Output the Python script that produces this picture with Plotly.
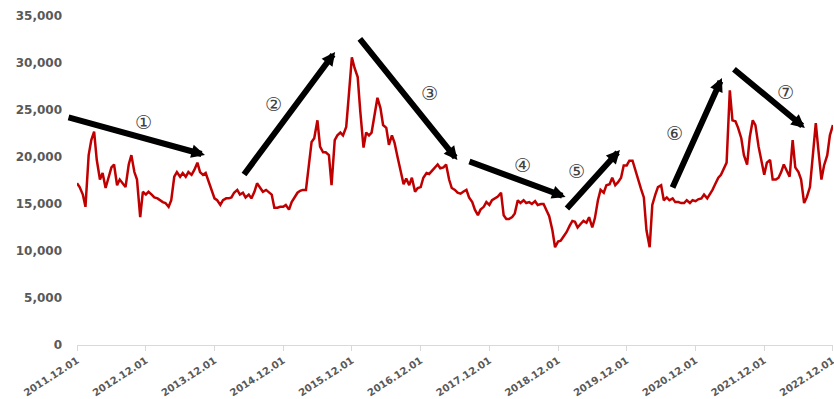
import pandas as pd
import plotly.graph_objects as go

# ---- data (semi-monthly readings of the price series) ----
start_date = "2011-12-01"
values = [
    17200, 16800, 16000, 14700, 20200, 21800, 22700, 19700, 17600, 18300,
    16700, 17800, 18900, 19200, 17000, 17600, 17200, 16800, 19200, 20200,
    18400, 17600, 13600, 16300, 16000, 16300, 16000, 15700, 15600, 15400,
    15200, 15100, 14700, 15400, 17900, 18400, 17900, 18300, 17900, 18400,
    18100, 18600, 19400, 18400, 18100, 18300, 17300, 16300, 15600, 15400,
    14900, 15400, 15600, 15600, 15700, 16200, 16500, 16000, 16200, 15700,
    16000, 15600, 16300, 17200, 16700, 16300, 16500, 16300, 16000, 14600,
    14600, 14700, 14700, 14900, 14400, 15200, 15700, 16200, 16400, 16500,
    16500, 19200, 21600, 22000, 23900, 21100, 20500, 20500, 20200, 17000,
    21800, 22300, 22600, 22300, 23200, 26600, 30600, 29500, 28500, 24800,
    21000, 22600, 22300, 22600, 24500, 26300, 25200, 23400, 23100, 21300,
    22300, 21500, 19900, 18600, 17100, 17700, 17000, 17800, 16300, 16700,
    16800, 17800, 18300, 18200, 18600, 18900, 19200, 18800, 18900, 19200,
    17600, 16700, 16500, 16200, 16100, 16300, 16500, 15700, 15200, 14400,
    13800, 14400, 14700, 15200, 14900, 15400, 15600, 15800, 16200, 13800,
    13400, 13400, 13600, 14000, 15400, 15100, 15400, 15100, 15200, 15000,
    15300, 14900, 15000, 15000, 14300, 13700, 12200, 10400, 11000, 11100,
    11600, 12000, 12700, 13200, 13100, 12500, 12900, 13200, 13000, 13600,
    12500, 13500, 15400, 16500, 16200, 17000, 17100, 17800, 17000, 17300,
    17800, 19100, 19100, 19600, 19600, 18600, 17600, 16600, 15700, 12200,
    10400, 14900, 16000, 16800, 17000, 15400, 15700, 15400, 15600, 15200,
    15200, 15100, 15100, 15400, 15100, 15400, 15300, 15500, 15600, 16000,
    15600, 16000, 16500, 17100, 17800, 18100, 18800, 19400, 27100, 23900,
    23800, 23100, 22000, 20200, 19200, 22100, 23900, 23400, 21100, 19700,
    18100, 19400, 19700, 17600, 17600, 17800, 18400, 19200, 18400, 17900,
    21800, 18900, 18400, 17600, 15100, 15700, 16800, 20200, 23600, 20700,
    17600, 19100, 20200, 22300, 23400,
]
dates = pd.date_range(start_date, periods=len(values), freq="SMS")

tick_dates = ["2011-12-01", "2012-12-01", "2013-12-01", "2014-12-01",
              "2015-12-01", "2016-12-01", "2017-12-01", "2018-12-01",
              "2019-12-01", "2020-12-01", "2021-12-01", "2022-12-01"]
tick_labels = [d.replace("-", ".") for d in tick_dates]
y_ticks = [0, 5000, 10000, 15000, 20000, 25000, 30000, 35000]

# trend arrows: (tail date, tail value, head date, head value)
arrows = [
    ("2011-10-09", 24260, "2013-10-11", 20220),
    ("2014-05-01", 17980, "2015-09-03", 31180),
    ("2016-01-06", 32720, "2017-06-14", 19680),
    ("2017-08-09", 19580, "2019-01-10", 15750),
    ("2019-01-10", 14360, "2019-10-26", 20750),
    ("2020-07-28", 16600, "2021-04-20", 28410),
    ("2021-06-15", 29470, "2022-07-05", 23090),
]
phase_labels = ["①", "②", "③", "④", "⑤", "⑥", "⑦"]
phase_dates = ["2012-11-17", "2014-10-08", "2017-01-18", "2018-05-27",
               "2019-03-10", "2020-08-13", "2022-03-25"]
phase_values = [23730, 25640, 26810, 19150, 18510, 22560, 26920]

fig = go.Figure()
fig.add_trace(go.Scatter(
    x=dates, y=values, mode="lines",
    line=dict(color="#c00000", width=2.5),
    showlegend=False, hoverinfo="skip",
))

for (tx, tv, hx, hv) in arrows:
    fig.add_annotation(
        x=hx, y=hv, ax=tx, ay=tv, xref="x", yref="y", axref="x", ayref="y",
        text="", showarrow=True, arrowhead=2, arrowsize=0.45,
        arrowwidth=6, arrowcolor="#000000", standoff=0, startstandoff=0,
    )

for lab, d, v in zip(phase_labels, phase_dates, phase_values):
    fig.add_annotation(
        x=d, y=v, xref="x", yref="y", text=lab, showarrow=False,
        font=dict(family="DejaVu Sans", size=19, color="#404040"),
    )

fig.update_layout(
    width=834, height=399,
    margin=dict(l=77, r=1, t=16, b=54, autoexpand=False),
    paper_bgcolor="white", plot_bgcolor="white",
    xaxis=dict(
        type="date", range=["2011-12-01", "2022-12-01 12:00"],
        tickvals=tick_dates, ticktext=tick_labels, tickangle=-33,
        ticklabeloverflow="allow", automargin=False,
        showgrid=False, showline=True, linecolor="#d9d9d9", linewidth=1,
        ticks="outside", ticklen=5, tickcolor="#d9d9d9",
        tickfont=dict(family="DejaVu Sans", size=10, color="#595959", weight="bold"),
        zeroline=False,
    ),
    yaxis=dict(
        range=[0, 35000], tickvals=y_ticks, automargin=False,
        tickformat=",d", showgrid=False, showline=False, zeroline=False,
        ticklabelstandoff=14,
        tickfont=dict(family="DejaVu Sans", size=12, color="#595959", weight="bold"),
    ),
)

fig.write_html("out.html")
